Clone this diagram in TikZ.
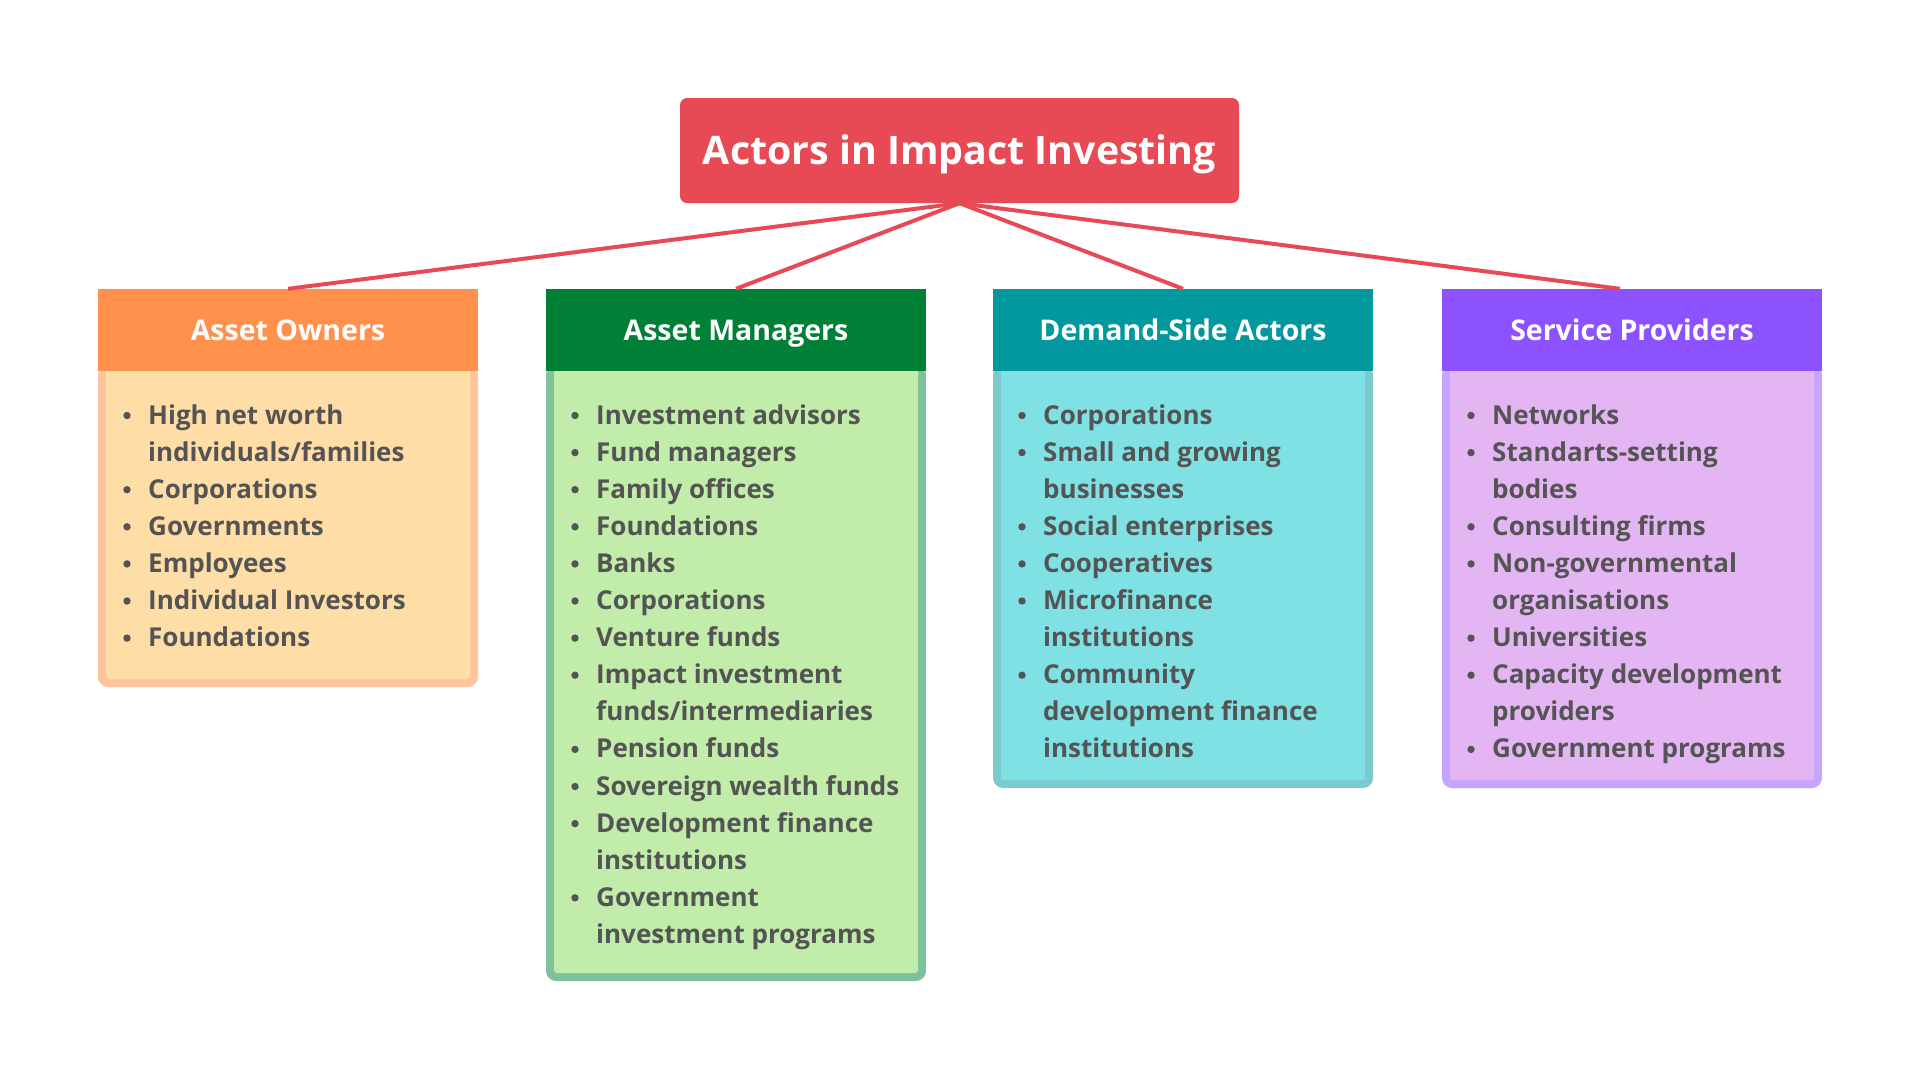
\documentclass[tikz,border=0pt]{standalone}
\usepackage{fontspec}
\setmainfont{Open Sans}
\definecolor{titlered}{HTML}{E84A55}
\definecolor{txtgray}{HTML}{545454}
\definecolor{hOwn}{HTML}{FF914D}\definecolor{bOwn}{HTML}{FEDDA7}\definecolor{rOwn}{HTML}{FFC49E}
\definecolor{hMan}{HTML}{008037}\definecolor{bMan}{HTML}{C1ECAA}\definecolor{rMan}{HTML}{7DC29A}
\definecolor{hDem}{HTML}{03989E}\definecolor{bDem}{HTML}{7FE1E4}\definecolor{rDem}{HTML}{7CCACC}
\definecolor{hSer}{HTML}{8C52FF}\definecolor{bSer}{HTML}{E4B5F3}\definecolor{rSer}{HTML}{C6A6FD}
\newcommand\bitem[4]{%
  \fill[txtgray] (#2+29,424+37.1*#3-8.5) circle (3.7);
  \node[itemtext] (#1) at (#2+50,424+37.1*#3) {#4};}
\newcommand\citem[4]{\node[itemtext] (#1) at (#2+50,424+37.1*#3) {#4};}
\newcommand\colbody[4]{% x, bottom, border colour, fill colour
  \fill[#3,rounded corners=10pt] (#1,365) rectangle (#1+380,#2);
  \fill[#4,rounded corners=3pt] (#1+8,365) rectangle (#1+372,#2-8);}
\tikzset{
  itemtext/.style={anchor=base west,inner sep=0pt,text=txtgray,font=\bfseries\fontsize{26}{30}\selectfont},
  header/.style={rectangle,minimum width=380pt,minimum height=82pt,inner sep=0pt,text=white,
    text height=20pt,text depth=0pt,font=\bfseries\fontsize{28.5}{30}\selectfont},
  conn/.style={draw=titlered,line width=4pt},
}
\begin{document}
\begin{tikzpicture}[x=1pt,y=-1pt]
\useasboundingbox[fill=white] (0,0) rectangle (1920,1080);
% title
\node[fill=titlered,rounded corners=7pt,minimum width=559pt,minimum height=105pt,inner sep=0pt,
      text height=28pt,text depth=0pt,
      text=white,font=\bfseries\fontsize{39.3}{41}\selectfont] (title) at (959.5,150.5) {Actors in Impact Investing};
% bodies
\colbody{98}{687}{rOwn}{bOwn}
\colbody{546}{981}{rMan}{bMan}
\colbody{993}{788}{rDem}{bDem}
\colbody{1442}{788}{rSer}{bSer}
% headers
\node[header,fill=hOwn] (h1) at (288,330) {Asset Owners};
\node[header,fill=hMan] (h2) at (736,330) {Asset Managers};
\node[header,fill=hDem] (h3) at (1183,330) {Demand-Side Actors};
\node[header,fill=hSer] (h4) at (1632,330) {Service Providers};
% connectors
\draw[conn] (title.south) -- (h1.north);
\draw[conn] (title.south) -- (h2.north);
\draw[conn] (title.south) -- (h3.north);
\draw[conn] (title.south) -- ([xshift=-12pt]h4.north);
% Asset Owners
\bitem{o1}{98}{0}{High net worth}
\citem{o1b}{98}{1}{individuals/families}
\bitem{o2}{98}{2}{Corporations}
\bitem{o3}{98}{3}{Governments}
\bitem{o4}{98}{4}{Employees}
\bitem{o5}{98}{5}{Individual Investors}
\bitem{o6}{98}{6}{Foundations}
% Asset Managers
\bitem{m1}{546}{0}{Investment advisors}
\bitem{m2}{546}{1}{Fund managers}
\bitem{m3}{546}{2}{Family offices}
\bitem{m4}{546}{3}{Foundations}
\bitem{m5}{546}{4}{Banks}
\bitem{m6}{546}{5}{Corporations}
\bitem{m7}{546}{6}{Venture funds}
\bitem{m8}{546}{7}{Impact investment}
\citem{m8b}{546}{8}{funds/intermediaries}
\bitem{m9}{546}{9}{Pension funds}
\bitem{m10}{546}{10}{Sovereign wealth funds}
\bitem{m11}{546}{11}{Development finance}
\citem{m11b}{546}{12}{institutions}
\bitem{m12}{546}{13}{Government}
\citem{m12b}{546}{14}{investment programs}
% Demand-Side Actors
\bitem{d1}{993}{0}{Corporations}
\bitem{d2}{993}{1}{Small and growing}
\citem{d2b}{993}{2}{businesses}
\bitem{d3}{993}{3}{Social enterprises}
\bitem{d4}{993}{4}{Cooperatives}
\bitem{d5}{993}{5}{Microfinance}
\citem{d5b}{993}{6}{institutions}
\bitem{d6}{993}{7}{Community}
\citem{d6b}{993}{8}{development finance}
\citem{d6c}{993}{9}{institutions}
% Service Providers
\bitem{s1}{1442}{0}{Networks}
\bitem{s2}{1442}{1}{Standarts-setting}
\citem{s2b}{1442}{2}{bodies}
\bitem{s3}{1442}{3}{Consulting firms}
\bitem{s4}{1442}{4}{Non-governmental}
\citem{s4b}{1442}{5}{organisations}
\bitem{s5}{1442}{6}{Universities}
\bitem{s6}{1442}{7}{Capacity development}
\citem{s6b}{1442}{8}{providers}
\bitem{s7}{1442}{9}{Government programs}
\end{tikzpicture}
\end{document}
